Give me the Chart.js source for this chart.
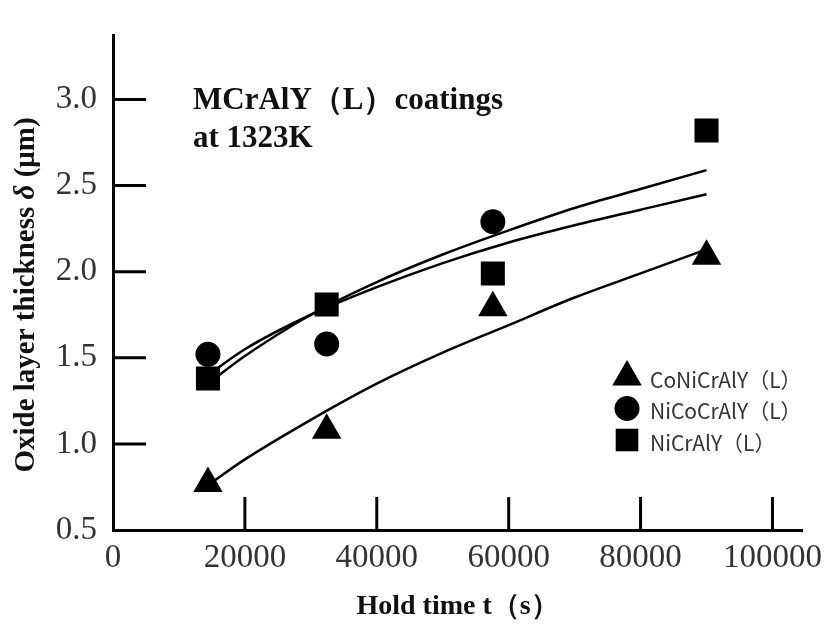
<!DOCTYPE html>
<html>
<head>
<meta charset="utf-8">
<script src="https://cdn.jsdelivr.net/npm/chart.js@4.4.1/dist/chart.umd.min.js"></script>
<style>
  html, body { margin: 0; padding: 0; background: #fff; }
  canvas { display: block; }
</style>
</head>
<body>
<canvas id="oxideChart" width="832" height="626"></canvas>
<script>
// measured points: hold time (s) -> oxide thickness (um)
const holdTimes = [14400, 32400, 57600, 90000];
const coNiCrAlY = [0.77, 1.08, 1.79, 2.09];
const niCoCrAlY = [1.52, 1.58, 2.29];
const niCrAlY = [1.38, 1.81, 1.99, 2.82];

// fitted curves
const fitTimes = [14400, 20000, 30000, 40000, 50000, 60000, 70000, 80000, 90000];
const coNiCrAlYFit = [0.76, 0.91, 1.14, 1.35, 1.53, 1.69, 1.85, 1.99, 2.13];
const niCoCrAlYFit = [1.40, 1.55, 1.75, 1.91, 2.05, 2.17, 2.27, 2.36, 2.45];
const niCrAlYFit = [1.35, 1.51, 1.75, 1.94, 2.10, 2.24, 2.37, 2.48, 2.59];

const xTicks = [0, 20000, 40000, 60000, 80000, 100000];
const yTicks = [0.5, 1.0, 1.5, 2.0, 2.5, 3.0];
const seriesLabels = ['CoNiCrAlY（L）', 'NiCoCrAlY（L）', 'NiCrAlY（L）'];
const noteLines = ['MCrAlY（L）coatings', 'at 1323K'];
const xTitle = 'Hold time t（s）';

const SERIF = '"Liberation Serif", "Times New Roman", serif';

function toPoints(xs, ys) {
    return ys.map((y, i) => ({ x: xs[i], y: y }));
}

function markerSet(label, data, style, radius) {
    return {
        label: label,
        data: data,
        showLine: false,
        pointStyle: style,
        pointRadius: radius,
        pointHoverRadius: radius,
        pointBackgroundColor: '#000',
        pointBorderColor: '#000',
        pointBorderWidth: 0
    };
}

function curveSet(data) {
    return {
        label: '',
        data: data,
        showLine: true,
        pointRadius: 0,
        borderColor: '#000',
        borderWidth: 2.5,
        cubicInterpolationMode: 'monotone',
        fill: false
    };
}

// ticks pointing into the plot, the legend box, the note and the y title
const decorPlugin = {
    id: 'decor',
    afterDatasetsDraw(chart) {
        const ctx = chart.ctx;
        const xs = chart.scales.x;
        const ys = chart.scales.y;
        const area = chart.chartArea;
        ctx.save();
        ctx.strokeStyle = '#000';
        ctx.lineWidth = 3;
        xTicks.forEach(v => {
            if (v === xs.min) return;
            const px = xs.getPixelForValue(v);
            ctx.beginPath();
            ctx.moveTo(px, area.bottom);
            ctx.lineTo(px, area.bottom - 33);
            ctx.stroke();
        });
        yTicks.forEach(v => {
            if (v === ys.min) return;
            const py = ys.getPixelForValue(v);
            ctx.beginPath();
            ctx.moveTo(area.left, py);
            ctx.lineTo(area.left + 33, py);
            ctx.stroke();
        });

        // legend
        const styles = [['triangle', 17], ['circle', 12.5], ['rect', 16]];
        ctx.fillStyle = '#000';
        styles.forEach((s, i) => {
            const y = 377 + i * 31.5;
            Chart.helpers.drawPoint(ctx, { pointStyle: s[0], radius: s[1], rotation: 0, borderWidth: 0 }, 627, y);
        });
        ctx.fillStyle = '#333';
        ctx.font = '21px "Noto Sans CJK JP", "Noto Sans", sans-serif';
        ctx.textBaseline = 'middle';
        ctx.textAlign = 'left';
        seriesLabels.forEach((t, i) => {
            ctx.fillText(t, 650, 380 + i * 31.5);
        });

        // note
        ctx.fillStyle = '#111';
        ctx.font = 'bold 31px ' + SERIF;
        ctx.textBaseline = 'alphabetic';
        ctx.fillText(noteLines[0], 193, 109);
        ctx.fillText(noteLines[1], 193, 147);

        // y title with italic delta
        const parts = [
            { t: 'Oxide layer thickness ', f: 'bold 29px ' + SERIF },
            { t: 'δ', f: 'italic bold 29px ' + SERIF },
            { t: ' (μm)', f: 'bold 29px ' + SERIF }
        ];
        let total = 0;
        parts.forEach(p => { ctx.font = p.f; p.w = ctx.measureText(p.t).width; total += p.w; });
        ctx.translate(27, 295);
        ctx.rotate(-Math.PI / 2);
        ctx.textBaseline = 'middle';
        ctx.fillStyle = '#111';
        let x = -total / 2;
        parts.forEach(p => { ctx.font = p.f; ctx.fillText(p.t, x, 0); x += p.w; });
        ctx.restore();
    }
};

const ctx = document.getElementById('oxideChart').getContext('2d');
new Chart(ctx, {
    type: 'scatter',
    data: {
        datasets: [
            curveSet(toPoints(fitTimes, coNiCrAlYFit)),
            curveSet(toPoints(fitTimes, niCoCrAlYFit)),
            curveSet(toPoints(fitTimes, niCrAlYFit)),
            markerSet(seriesLabels[0], toPoints(holdTimes, coNiCrAlY), 'triangle', 17),
            markerSet(seriesLabels[1], toPoints(holdTimes, niCoCrAlY), 'circle', 12.5),
            markerSet(seriesLabels[2], toPoints(holdTimes, niCrAlY), 'rect', 17)
        ]
    },
    options: {
        responsive: false,
        animation: false,
        devicePixelRatio: 1,
        layout: { padding: { top: 10, right: 24, left: 0, bottom: 0 } },
        plugins: {
            legend: { display: false },
            tooltip: { enabled: false }
        },
        scales: {
            x: {
                type: 'linear',
                min: 0,
                max: 104500,
                afterFit: s => { s.height = 96; },
                afterBuildTicks: s => { s.ticks = xTicks.map(v => ({ value: v })); },
                grid: { display: false, drawTicks: false },
                border: { display: true, color: '#000', width: 3 },
                ticks: {
                    color: '#333',
                    font: { family: SERIF, size: 33 },
                    padding: 9,
                    maxRotation: 0,
                    autoSkip: false,
                    callback: v => String(v)
                },
                title: {
                    display: true,
                    text: xTitle,
                    color: '#111',
                    font: { family: SERIF, size: 28, weight: 'bold' },
                    padding: { top: 0, bottom: 2 }
                }
            },
            y: {
                type: 'linear',
                min: 0.5,
                max: 3.37,
                afterFit: s => { s.width = 113; },
                afterBuildTicks: s => { s.ticks = yTicks.map(v => ({ value: v })); },
                grid: { display: false, drawTicks: false },
                border: { display: true, color: '#000', width: 3 },
                ticks: {
                    color: '#333',
                    font: { family: SERIF, size: 33 },
                    padding: 16,
                    callback: v => v.toFixed(1)
                }
            }
        }
    },
    plugins: [decorPlugin]
});
</script>
</body>
</html>
